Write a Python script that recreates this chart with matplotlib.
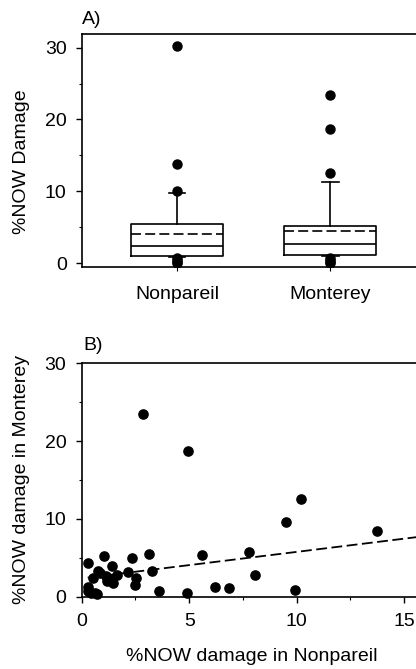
import numpy as np
import matplotlib
matplotlib.use("Agg")
import matplotlib.pyplot as plt
from matplotlib.ticker import MultipleLocator

plt.rcParams["font.family"] = ["Liberation Sans", "DejaVu Sans"]
plt.rcParams["font.size"] = 14

# Panel A: box plot summaries
cultivars = ["Nonpareil", "Monterey"]
q1 = [1.0, 1.07]
med = [2.4, 2.65]
q3 = [5.4, 5.15]
whis_lo = [0.9, 1.0]
whis_hi = [9.8, 11.3]
means = [4.1, 4.4]
fliers = [
    [30.2, 13.8, 10.1, 0.7, 0.45, 0.2, 0.0],
    [23.4, 18.7, 12.6, 0.7, 0.45, 0.2, 0.0],
]

# Panel B: per-orchard damage, Nonpareil vs Monterey
nonpareil = [2.87, 4.93, 10.2, 9.5, 13.72, 7.77, 5.61, 3.15, 2.36, 1.02,
             0.29, 1.43, 3.27, 2.14, 0.74, 8.05, 2.51, 2.48, 6.2, 6.84,
             9.9, 3.61, 4.91, 0.51, 0.85, 1.13, 1.36, 1.46, 1.63, 0.31,
             0.28, 0.45, 0.62, 0.70, 1.2]
monterey = [23.45, 18.77, 12.6, 9.56, 8.4, 5.7, 5.36, 5.49, 5.01, 5.23,
            4.37, 3.99, 3.34, 3.13, 3.34, 2.79, 2.36, 1.46, 1.2, 1.07,
            0.86, 0.73, 0.47, 2.4, 3.0, 2.6, 2.25, 1.75, 2.79, 1.29,
            0.7, 0.5, 0.43, 0.3, 2.0]
fit_slope = 0.34
fit_intercept = 2.36

W, H = 416, 669
fig = plt.figure(figsize=(W / 100, H / 100), dpi=100)

# ---- A) box plots
axA = fig.add_axes([82 / W, 1 - 267 / H, (W - 82) / W, (267 - 34) / H])
stats = []
for i in range(2):
    stats.append(dict(label=cultivars[i], med=med[i], q1=q1[i], q3=q3[i],
                      whislo=whis_lo[i], whishi=whis_hi[i], mean=means[i],
                      fliers=fliers[i]))
axA.bxp(stats, positions=[1, 2], widths=0.6, capwidths=0.11,
        showmeans=True, meanline=True,
        boxprops=dict(color="k", lw=1.2),
        medianprops=dict(color="k", lw=1.2),
        whiskerprops=dict(color="k", lw=1.2),
        capprops=dict(color="k", lw=1.2),
        meanprops=dict(color="k", lw=1.2, linestyle=(0, (6, 2.5))),
        flierprops=dict(marker="o", markerfacecolor="k", markeredgecolor="k",
                        markersize=6.5))
axA.set_xlim(0.38, 2.56)
axA.set_ylim(-0.55, 31.9)
axA.yaxis.set_major_locator(MultipleLocator(10))
axA.yaxis.set_minor_locator(MultipleLocator(5))
axA.set_ylabel("%NOW Damage", va="center")
axA.yaxis.set_label_coords(-0.18, 0.45)
axA.tick_params(axis="y", which="major", length=4, pad=7, width=1)
axA.tick_params(axis="y", which="minor", length=2.5, width=0.8)
axA.tick_params(axis="x", length=3, pad=11)
axA.spines["right"].set_visible(False)
for s in ["left", "bottom", "top"]:
    axA.spines[s].set_linewidth(1.2)
fig.text(82 / W, 1 - 19 / H, "A)", ha="left", va="center", fontsize=14)

# ---- B) scatter with fitted line
axB = fig.add_axes([81.7 / W, 1 - 596.7 / H, (W - 81.7) / W, (596.7 - 363.3) / H])
axB.scatter(nonpareil, monterey, s=44, color="k", zorder=3, clip_on=False)
xfit = np.array([min(nonpareil), 15.6])
axB.plot(xfit, fit_intercept + fit_slope * xfit, color="k", lw=1.3,
         linestyle=(0, (6, 2.5)), zorder=2)
axB.set_xlim(0, 15.55)
axB.set_ylim(0, 30)
axB.xaxis.set_major_locator(MultipleLocator(5))
axB.xaxis.set_minor_locator(MultipleLocator(2.5))
axB.yaxis.set_major_locator(MultipleLocator(10))
axB.yaxis.set_minor_locator(MultipleLocator(5))
axB.tick_params(axis="y", which="major", length=4, pad=7, width=1)
axB.tick_params(axis="x", which="major", length=4, pad=8, width=1)
axB.tick_params(which="minor", length=2.5, width=0.8)
axB.set_ylabel("%NOW damage in Monterey", va="center")
axB.yaxis.set_label_coords(-0.18, 0.5)
axB.set_xlabel("%NOW damage in Nonpareil", va="center")
axB.xaxis.set_label_coords(0.51, -0.257)
axB.spines["right"].set_visible(False)
for s in ["left", "bottom", "top"]:
    axB.spines[s].set_linewidth(1.2)
fig.text(83 / W, 1 - 346 / H, "B)", ha="left", va="center", fontsize=14)

fig.savefig("out.png", dpi=100)
